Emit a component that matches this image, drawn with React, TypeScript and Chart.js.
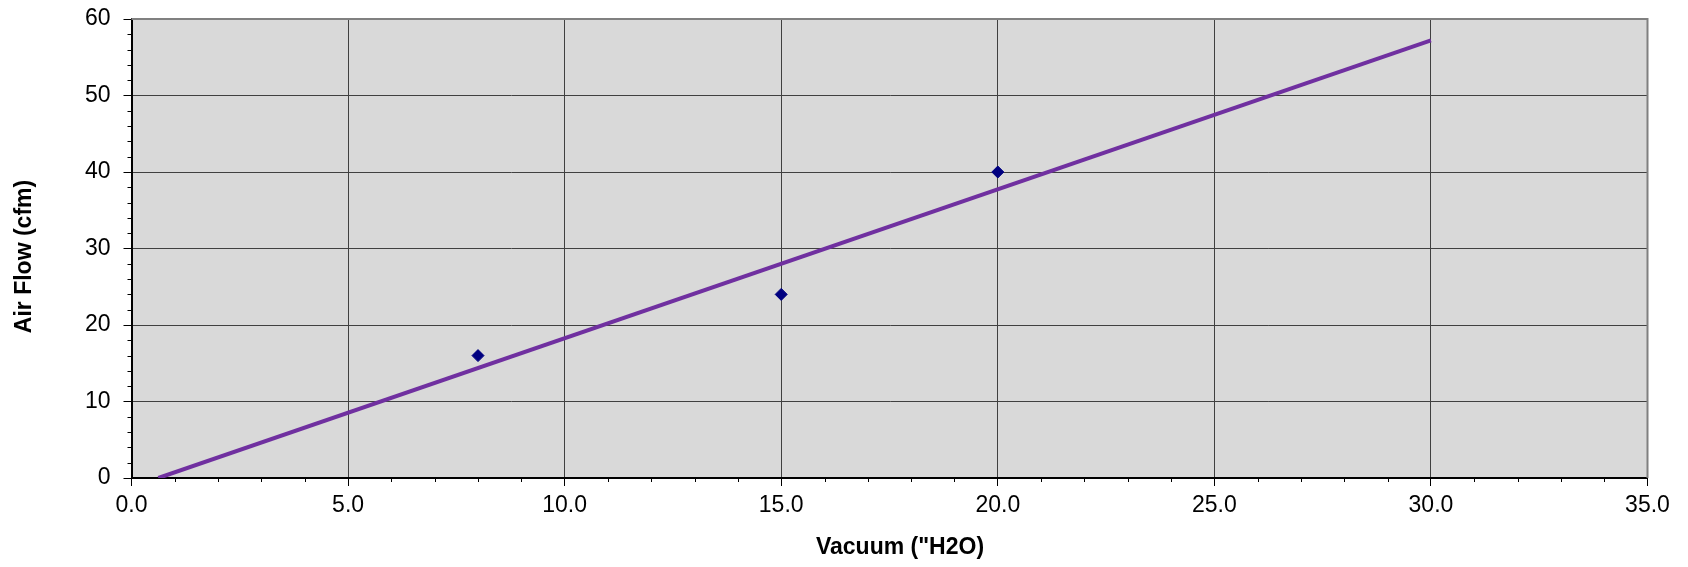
import React, { useEffect, useRef } from "react";
import { Chart, registerables } from "chart.js";

Chart.register(...registerables);

const vacuum = [8, 15, 20];
const airFlow = [16, 24, 40];
const trendVacuum = [0.62, 30];
const trendAirFlow = [0, 57.2];
const xTitle = 'Vacuum ("H2O)';
const yTitle = "Air Flow (cfm)";

const FONT = "'Liberation Sans', Arial, sans-serif";

const plotDecor = {
  id: "plotDecor",
  beforeDraw(chart: any) {
    const { ctx, chartArea: a } = chart;
    ctx.save();
    ctx.fillStyle = "#d9d9d9";
    ctx.fillRect(a.left, a.top, a.right - a.left, a.bottom - a.top);
    ctx.restore();
  },
  afterDraw(chart: any) {
    const { ctx, chartArea: a, scales } = chart;
    ctx.save();
    ctx.strokeStyle = "#808080";
    ctx.lineWidth = 2;
    ctx.beginPath();
    ctx.moveTo(a.left, a.top);
    ctx.lineTo(a.right, a.top);
    ctx.lineTo(a.right, a.bottom);
    ctx.stroke();
    ctx.strokeStyle = "#000";
    ctx.lineWidth = 1;
    ctx.beginPath();
    const xs = scales.x;
    for (let v = xs.min; v <= xs.max; v += 1) {
      if (v % 5 === 0) continue;
      const px = Math.round(xs.getPixelForValue(v)) + 0.5;
      ctx.moveTo(px, a.bottom);
      ctx.lineTo(px, a.bottom + 4);
    }
    const ys = scales.y;
    for (let v = ys.min; v <= ys.max; v += 2) {
      if (v % 10 === 0) continue;
      const py = Math.round(ys.getPixelForValue(v)) + 0.5;
      ctx.moveTo(a.left - 4, py);
      ctx.lineTo(a.left, py);
    }
    ctx.stroke();
    // axis titles
    ctx.fillStyle = "#000";
    ctx.font = `bold 23px ${FONT}`;
    ctx.textAlign = "center";
    ctx.textBaseline = "middle";
    ctx.fillText(xTitle, (a.left + a.right) / 2 + 10.5, 548);
    ctx.translate(24.8, (a.top + a.bottom) / 2 + 8);
    ctx.rotate(-Math.PI / 2);
    ctx.fillText(yTitle, 0, 0);
    ctx.restore();
  },
};

export default function App() {
  const ref = useRef<HTMLCanvasElement>(null);
  useEffect(() => {
    if (!ref.current) return;
    const chart = new Chart(ref.current, {
      type: "scatter",
      data: {
        datasets: [
          {
            label: "Data",
            data: vacuum.map((x, i) => ({ x, y: airFlow[i] })),
            pointStyle: "rectRot",
            pointRadius: 6,
            pointBackgroundColor: "#000080",
            pointBorderColor: "#000080",
            pointBorderWidth: 1,
            order: 0,
          },
          {
            label: "Trend",
            data: trendVacuum.map((x, i) => ({ x, y: trendAirFlow[i] })),
            showLine: true,
            borderColor: "#7030a0",
            borderWidth: 4,
            pointRadius: 0,
            order: 1,
          },
        ],
      },
      options: {
        responsive: false,
        animation: false,
        layout: { padding: { top: 19, right: 40.5, left: 0, bottom: 0 } },
        plugins: { legend: { display: false }, tooltip: { enabled: false } },
        scales: {
          x: {
            type: "linear",
            min: 0,
            max: 35,
            afterFit(scale: any) {
              scale.height = 89;
              scale.paddingLeft = 0;
              scale.paddingRight = 0;
            },
            ticks: {
              stepSize: 5,
              padding: 6,
              color: "#000",
              font: { family: FONT, size: 23 },
              callback: (v: any) => Number(v).toFixed(1),
              maxRotation: 0,
            },
            grid: { color: "#404040", lineWidth: 1, tickLength: 8, tickColor: "#000" },
            border: { color: "#000", width: 2 },
          },
          y: {
            type: "linear",
            min: 0,
            max: 60,
            afterFit(scale: any) {
              scale.width = 131.5;
              scale.paddingTop = 0;
              scale.paddingBottom = 0;
            },
            ticks: {
              stepSize: 10,
              padding: 13,
              color: "#000",
              font: { family: FONT, size: 23 },
            },
            grid: { color: "#404040", lineWidth: 1, tickLength: 8, tickColor: "#000" },
            border: { color: "#000", width: 2 },
          },
        },
      },
      plugins: [plotDecor],
    });
    return () => chart.destroy();
  }, []);
  return (
    <div style={{ position: "absolute", left: 0, top: 0, width: 1688, height: 567, background: "#fff" }}>
      <canvas ref={ref} width={1688} height={567} style={{ display: "block" }} />
    </div>
  );
}
